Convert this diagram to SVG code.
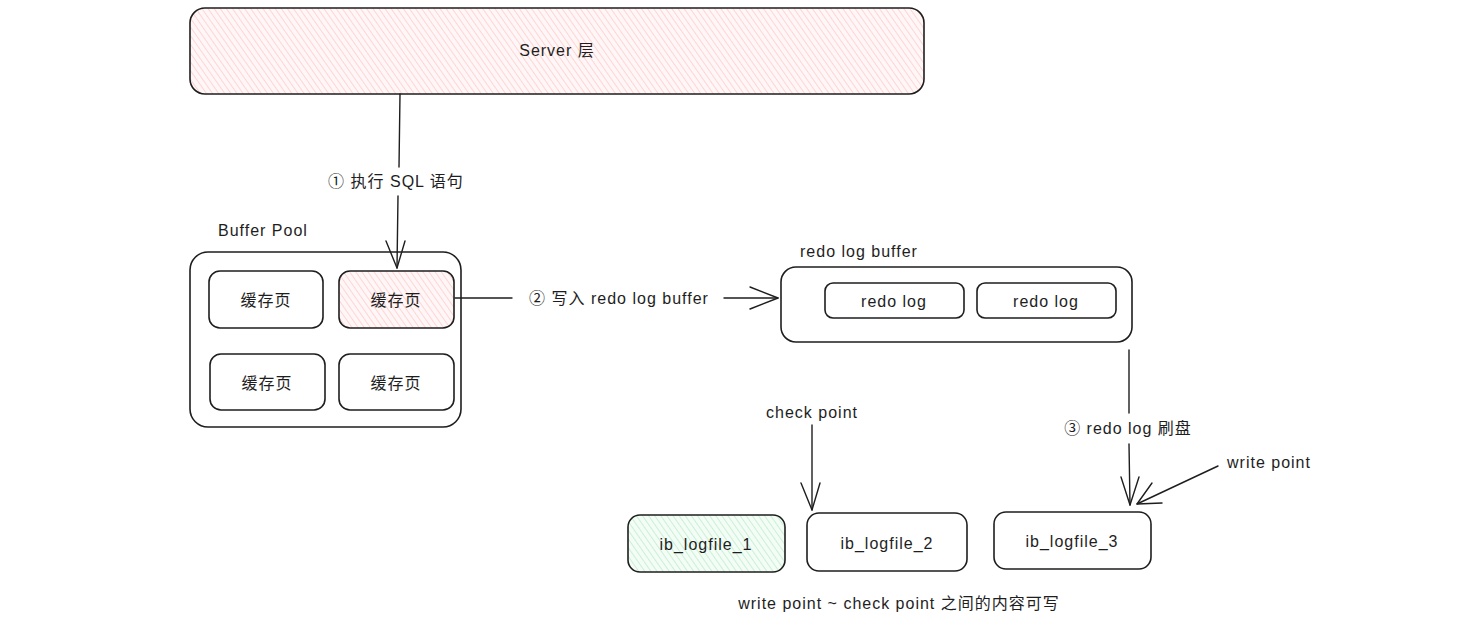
<svg xmlns="http://www.w3.org/2000/svg" width="1473" height="633" viewBox="0 0 1473 633">
  <defs>
    <pattern id="hatch-red" width="5" height="5" patternUnits="userSpaceOnUse" patternTransform="rotate(-35)">
      <rect width="5" height="5" fill="#fff7f7"/>
      <line x1="0" y1="0" x2="0" y2="5" stroke="#ffb8b8" stroke-width="1.1"/>
    </pattern>
    <pattern id="hatch-green" width="5" height="5" patternUnits="userSpaceOnUse" patternTransform="rotate(-35)">
      <rect width="5" height="5" fill="#f4fcf6"/>
      <line x1="0" y1="0" x2="0" y2="5" stroke="#a8e6bb" stroke-width="1.1"/>
    </pattern>
  </defs>
  <style>
    .box { fill: #ffffff; stroke: #1e1e1e; stroke-width: 1.6; }
    .red { fill: url(#hatch-red); }
    .green { fill: url(#hatch-green); }
    .edge { fill: none; stroke: #1e1e1e; stroke-width: 1.4; stroke-linecap: round; stroke-linejoin: round; }
    text { font-family: "Liberation Sans", "Noto Sans CJK SC", sans-serif; font-size: 16px; fill: #1e1e1e; letter-spacing: 1px; }
    .c { text-anchor: middle; dominant-baseline: central; }
  </style>
  <rect width="1473" height="633" fill="#ffffff"/>

  <g id="server">
    <rect class="box red" x="190" y="8" width="734" height="86" rx="15"/>
    <text class="c" x="557" y="50">Server 层</text>
  </g>

  <g id="buffer-pool">
    <text x="218" y="236">Buffer Pool</text>
    <rect class="box" x="190" y="252" width="271" height="175" rx="18"/>
  </g>
  <g id="page-1">
    <rect class="box" x="209" y="271" width="114" height="57" rx="11"/>
    <text class="c" x="266" y="300">缓存页</text>
  </g>
  <g id="page-2">
    <rect class="box red" x="339" y="271" width="115" height="57" rx="11"/>
    <text class="c" x="396" y="300">缓存页</text>
  </g>
  <g id="page-3">
    <rect class="box" x="210" y="354" width="115" height="56" rx="11"/>
    <text class="c" x="267" y="383">缓存页</text>
  </g>
  <g id="page-4">
    <rect class="box" x="339" y="354" width="115" height="56" rx="11"/>
    <text class="c" x="396" y="383">缓存页</text>
  </g>

  <g id="redo-log-buffer">
    <text x="800" y="257">redo log buffer</text>
    <rect class="box" x="781" y="267" width="351" height="75" rx="15"/>
  </g>
  <g id="redo-log-1">
    <rect class="box" x="825" y="283" width="139" height="35" rx="8"/>
    <text class="c" x="894" y="301">redo log</text>
  </g>
  <g id="redo-log-2">
    <rect class="box" x="977" y="283" width="139" height="35" rx="8"/>
    <text class="c" x="1046" y="301">redo log</text>
  </g>

  <g id="ib-logfile-1">
    <rect class="box green" x="628" y="515" width="157" height="57" rx="12"/>
    <text class="c" x="706" y="544">ib_logfile_1</text>
  </g>
  <g id="ib-logfile-2">
    <rect class="box" x="807" y="513" width="160" height="58" rx="12"/>
    <text class="c" x="887" y="543">ib_logfile_2</text>
  </g>
  <g id="ib-logfile-3">
    <rect class="box" x="994" y="512" width="157" height="57" rx="12"/>
    <text class="c" x="1072" y="541">ib_logfile_3</text>
  </g>

  <g id="check-point">
    <text class="c" x="812" y="412">check point</text>
  </g>
  <g id="write-point">
    <text class="c" x="1269" y="462">write point</text>
  </g>
  <g id="note">
    <text class="c" x="899" y="603">write point ~ check point 之间的内容可写</text>
  </g>

  <g id="connectors">
    <!-- ① server to buffer page -->
    <path class="edge" d="M400 94 L399 167 M398 196 L397 268"/>
    <path class="edge" d="M386 241 L397 268 L405 241"/>
    <text class="c" x="396" y="181">① 执行 SQL 语句</text>
    <!-- ② page to redo log buffer -->
    <path class="edge" d="M455 298 L512 298 M724 298 L778 298"/>
    <path class="edge" d="M750 287 L778 298 L750 309"/>
    <text class="c" x="619" y="298">② 写入 redo log buffer</text>
    <!-- ③ flush to log file -->
    <path class="edge" d="M1129 350 L1129 413 M1129 444 L1130 505"/>
    <path class="edge" d="M1121 477 L1130 505 L1139 477"/>
    <text class="c" x="1128" y="428">③ redo log 刷盘</text>
    <!-- check point marker -->
    <path class="edge" d="M812 425 L812 510"/>
    <path class="edge" d="M801 483 L812 510 L820 483"/>
    <!-- write point marker -->
    <path class="edge" d="M1218 466 L1137 504"/>
    <path class="edge" d="M1152 483 L1137 504 L1162 503"/>
  </g>
</svg>
